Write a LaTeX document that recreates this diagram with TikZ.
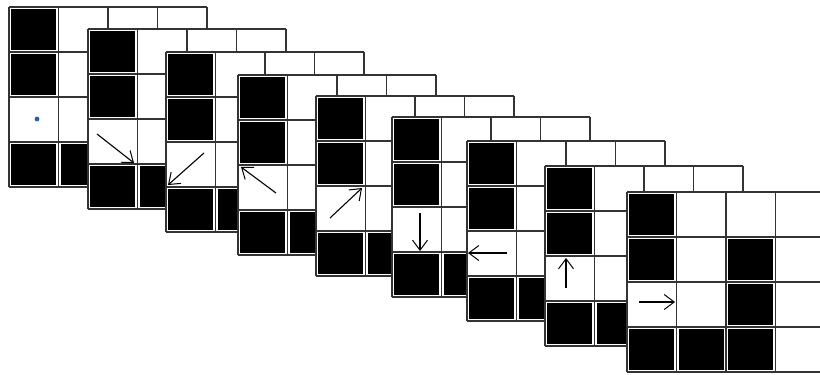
\documentclass[tikz,border=0pt]{standalone}
\usetikzlibrary{arrows.meta}
\tikzset{
  gridline/.style={draw=black!80,line width=1.4pt},
  cellfill/.style={fill=black},
  movearrow/.style={draw=black,line width=1.1pt,-{Straight Barb[length=10pt,width=15pt,line width=1pt]}},
}
\definecolor{dotblue}{RGB}{50,90,170}
\begin{document}
\begin{tikzpicture}[x=1pt,y=-1pt]
\clip (0,0) rectangle (820,375);
\fill[white] (0,0) rectangle (820,375);
\foreach \fx/\fy in {9/7, 88/29, 166/52, 238/75, 316/96, 392/117, 467/141, 545/166, 627/192} {
  \begin{scope}[shift={(\fx,\fy)}]
    \fill[white] (0,0) rectangle (198,180);
    \foreach \c/\r in {0/0,0/1,0/3,1/3,2/1,2/2,2/3}
      \fill[cellfill] ({\c*49.5+2.1},{\r*45+2.1}) rectangle ++(45.3,40.8);
    \foreach \i in {0,1,2,3,4} {
      \draw[gridline] ({\i*49.5},0) -- ({\i*49.5},180);
      \draw[gridline] (0,{\i*45}) -- (198,{\i*45});
    }
  \end{scope}
}
% blue dot in first frame
\fill[dotblue] (37,119) circle (2.4);
% arrows, coordinates relative to cell (row 2, column 0) of each frame
\foreach \fx/\fy/\ax/\ay/\bx/\by in {
   88/29/9/15/46/44,
   166/52/38/11/2/43,
   238/75/38/28/3/2,
   316/96/14/32/46/2,
   392/117/28/6/28/44,
   467/141/40/22/1/22,
   545/166/21/32/21/2,
   627/192/12/20/48/20} {
  \begin{scope}[shift={(\fx,{\fy+90})}]
    \coordinate (s) at (\ax,\ay);
    \coordinate (e) at (\bx,\by);
    \draw[movearrow] (s) -- (e);
  \end{scope}
}
\end{tikzpicture}
\end{document}
